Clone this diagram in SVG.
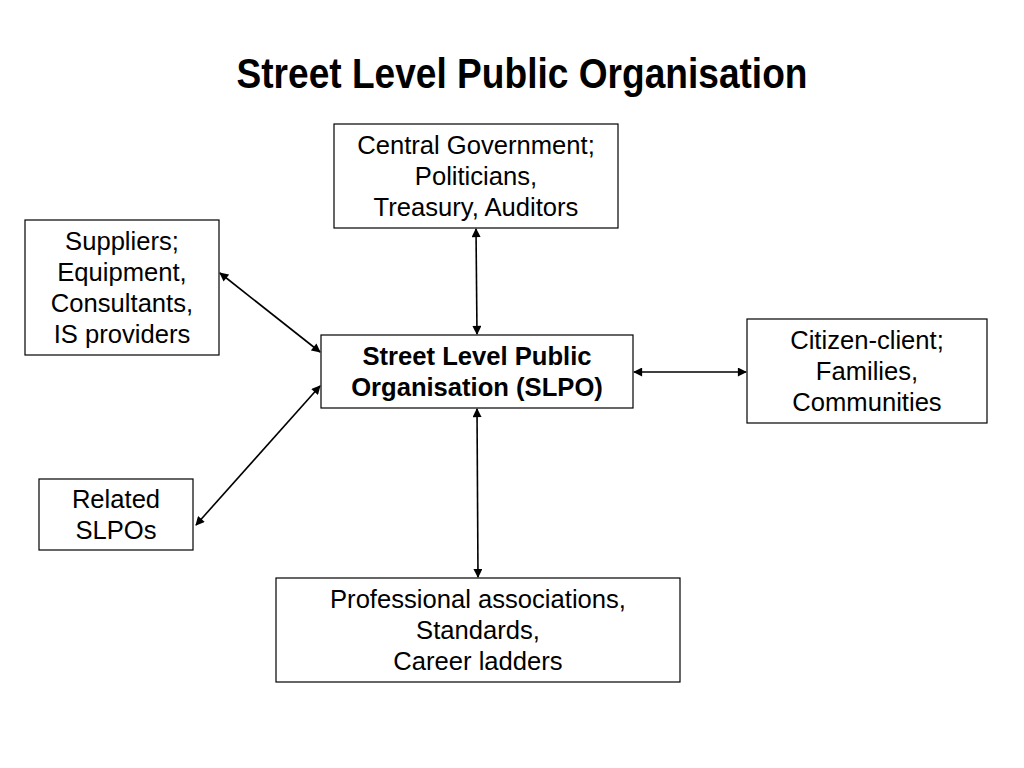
<svg xmlns="http://www.w3.org/2000/svg" width="1024" height="768" viewBox="0 0 1024 768">
<defs>
<style>
.box{fill:#fff;stroke:#000;stroke-width:1.2}
.t{font-family:"Liberation Sans",Arial,sans-serif;font-size:25.6px;fill:#000;text-anchor:middle}
.b{font-weight:bold}
.c{stroke:#000;stroke-width:1.6;fill:none;marker-start:url(#ah);marker-end:url(#ah)}
</style>
<marker id="ah" viewBox="0 0 10 10" refX="9" refY="5" markerWidth="10" markerHeight="9" orient="auto-start-reverse" markerUnits="userSpaceOnUse">
<path d="M0,0 L10,5 L0,10 z" fill="#000"/>
</marker>
</defs>
<rect width="1024" height="768" fill="#fff"/>
<text x="522" y="88" font-family="'Liberation Sans Narrow','Liberation Sans',Arial,sans-serif" font-weight="bold" font-size="43" text-anchor="middle" textLength="571" lengthAdjust="spacingAndGlyphs">Street Level Public Organisation</text>
<g id="connectors">
<line class="c" x1="476" y1="229" x2="477" y2="334"/>
<line class="c" x1="220" y1="273" x2="320" y2="352"/>
<line class="c" x1="634" y1="372" x2="746" y2="372"/>
<line class="c" x1="196" y1="525" x2="320" y2="386"/>
<line class="c" x1="477" y1="409" x2="478" y2="577"/>
</g>
<g id="central">
<rect class="box" x="334" y="124" width="284" height="104"/>
<text class="t" x="476" y="154">Central Government;</text>
<text class="t" x="476" y="185">Politicians,</text>
<text class="t" x="476" y="216">Treasury, Auditors</text>
</g>
<g id="suppliers">
<rect class="box" x="25" y="220" width="194" height="135"/>
<text class="t" x="122" y="250">Suppliers;</text>
<text class="t" x="122" y="281">Equipment,</text>
<text class="t" x="122" y="312">Consultants,</text>
<text class="t" x="122" y="343">IS providers</text>
</g>
<g id="slpo">
<rect class="box" x="321" y="335" width="312" height="73"/>
<text class="t b" x="477" y="365">Street Level Public</text>
<text class="t b" x="477" y="396">Organisation (SLPO)</text>
</g>
<g id="citizen">
<rect class="box" x="747" y="319" width="240" height="104"/>
<text class="t" x="867" y="349">Citizen-client;</text>
<text class="t" x="867" y="380">Families,</text>
<text class="t" x="867" y="411">Communities</text>
</g>
<g id="related">
<rect class="box" x="39" y="479" width="154" height="71"/>
<text class="t" x="116" y="508">Related</text>
<text class="t" x="116" y="539">SLPOs</text>
</g>
<g id="professional">
<rect class="box" x="276" y="578" width="404" height="104"/>
<text class="t" x="478" y="608">Professional associations,</text>
<text class="t" x="478" y="639">Standards,</text>
<text class="t" x="478" y="670">Career ladders</text>
</g>
</svg>
